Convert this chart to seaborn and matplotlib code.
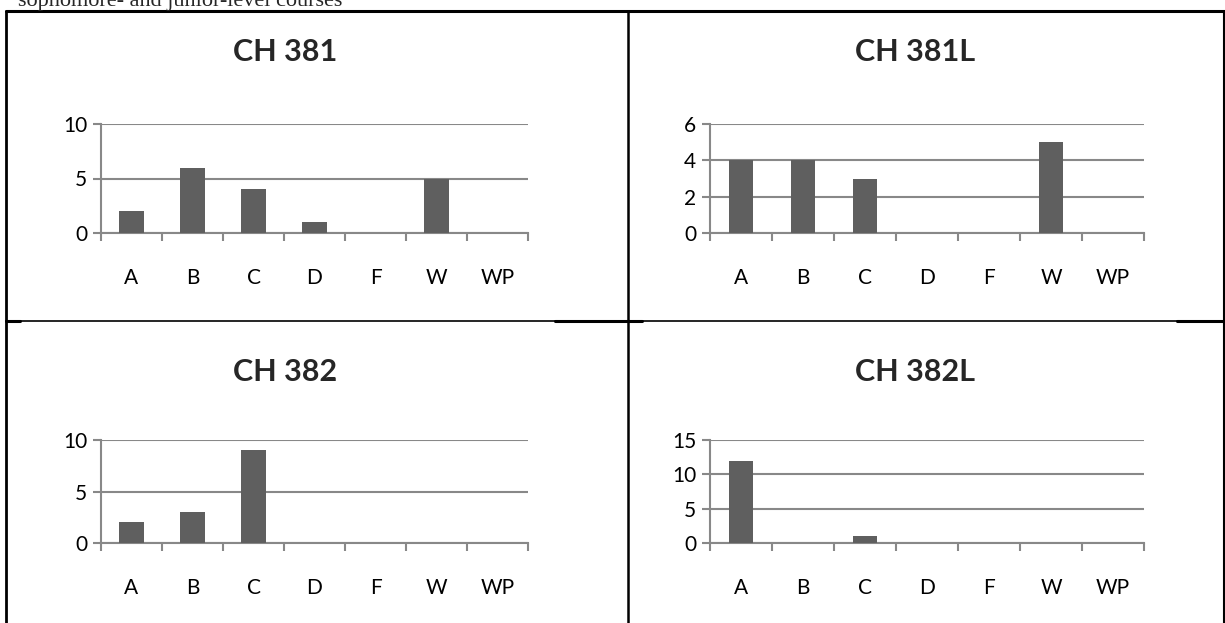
import matplotlib
matplotlib.use("Agg")
import matplotlib.pyplot as plt
import seaborn as sns
import pandas as pd
from matplotlib.lines import Line2D

# grade distributions per course
grades = ["A", "B", "C", "D", "F", "W", "WP"]
ch381 = [2, 6, 4, 1, 0, 5, 0]
ch381l = [4, 4, 3, 0, 0, 5, 0]
ch382 = [2, 3, 9, 0, 0, 0, 0]
ch382l = [12, 0, 1, 0, 0, 0, 0]

courses = ["CH 381", "CH 381L", "CH 382", "CH 382L"]
counts = [ch381, ch381l, ch382, ch382l]
y_max = [10, 6, 10, 15]
y_step = [5, 2, 5, 5]

caption = "sophomore- and junior-level courses"

W, H = 1225, 623
BAR = "#5f5f5f"
GRID = "#888888"

sns.set_theme(style="white")
plt.rcParams["font.family"] = ["Lato", "DejaVu Sans"]

fig = plt.figure(figsize=(W / 100, H / 100), dpi=100)
fig.patch.set_facecolor("white")


def box(l, t, r, b):
    return [l / W, 1 - b / H, (r - l) / W, (b - t) / H]


def hline(x0, x1, y, lw):
    fig.add_artist(Line2D([x0 / W, x1 / W], [1 - y / H, 1 - y / H],
                          transform=fig.transFigure, color="black", lw=lw))


def vline(x, y0, y1, lw):
    fig.add_artist(Line2D([x / W, x / W], [1 - y0 / H, 1 - y1 / H],
                          transform=fig.transFigure, color="black", lw=lw))


axes_px = [(101, 124, 528, 233), (710, 124, 1144, 233),
           (101, 440, 528, 543), (710, 440, 1144, 543)]
title_px = [(285, 52), (915, 52), (285, 372), (915, 372)]

for rect, course, vals, ymax, step, (tx, ty) in zip(axes_px, courses, counts,
                                                    y_max, y_step, title_px):
    ax = fig.add_axes(box(*rect))
    df = pd.DataFrame({"grade": grades, "count": vals})
    sns.barplot(data=df, x="grade", y="count", color=BAR, saturation=1,
                width=0.4, linewidth=0, ax=ax, zorder=3)
    ax.set_xlim(-0.5, len(grades) - 0.5)
    ax.set_ylim(0, ymax)
    ax.set_yticks(range(0, ymax + 1, step))
    ax.set_xticks([i - 0.5 for i in range(len(grades) + 1)], minor=True)
    ax.set_axisbelow(True)
    ax.yaxis.grid(True, color=GRID, lw=1.5)
    ax.xaxis.grid(False)
    for s in ["top", "right"]:
        ax.spines[s].set_visible(False)
    for s in ["left", "bottom"]:
        ax.spines[s].set_color(GRID)
        ax.spines[s].set_linewidth(1.5)
    ax.tick_params(axis="y", length=6, width=1.5, color=GRID, direction="out",
                   pad=4, labelsize=15, labelcolor="black", left=True)
    ax.tick_params(axis="x", which="major", length=0, pad=25, labelsize=15,
                   labelcolor="black")
    ax.tick_params(axis="x", which="minor", length=6, width=1.5, color=GRID,
                   direction="out", bottom=True)
    ax.set_xlabel("")
    ax.set_ylabel("")
    fig.text(tx / W, 1 - ty / H, course, ha="center", va="center",
             fontsize=22, fontweight="bold")

# document text cut at the top of the crop, as in the source
fig.text(18 / W, 1 - 6 / H, caption, ha="left", va="baseline", fontsize=16,
         family=["Liberation Serif", "DejaVu Serif"])

# table borders
hline(6, 1225, 11, 2.2)
vline(6, 11, 623, 2.0)
vline(628, 11, 623, 1.8)
vline(1224, 11, 623, 1.5)
hline(6, 1225, 321, 1.2)
hline(6, 20, 321, 2.2)
hline(555, 642, 321, 2.2)
hline(1177, 1225, 321, 2.2)

fig.savefig("out.png", dpi=100)
